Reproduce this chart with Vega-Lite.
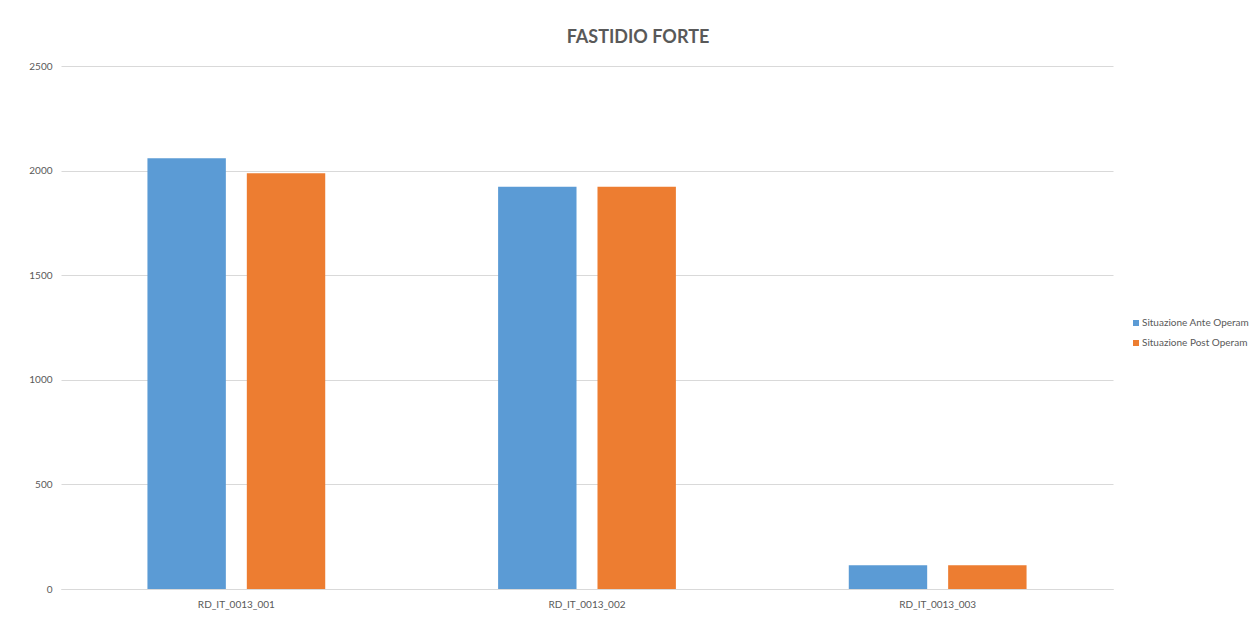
{
  "$schema": "https://vega.github.io/schema/vega-lite/v6.json",
  "autosize": {"type": "none"},
  "width": 1052,
  "height": 523,
  "padding": {"left": 61, "top": 66, "right": 147, "bottom": 31},
  "background": "white",
  "title": {
    "text": "FASTIDIO FORTE",
    "font": "Lato",
    "fontSize": 18,
    "fontWeight": "bold",
    "color": "#595959",
    "anchor": "middle",
    "dx": 51,
    "offset": 14
  },
  "data": {
    "values": [
      {"ricettore": "RD_IT_0013_001", "scenario": "Situazione Ante Operam", "valore": 2059},
      {"ricettore": "RD_IT_0013_001", "scenario": "Situazione Post Operam", "valore": 1987},
      {"ricettore": "RD_IT_0013_002", "scenario": "Situazione Ante Operam", "valore": 1923},
      {"ricettore": "RD_IT_0013_002", "scenario": "Situazione Post Operam", "valore": 1923},
      {"ricettore": "RD_IT_0013_003", "scenario": "Situazione Ante Operam", "valore": 113},
      {"ricettore": "RD_IT_0013_003", "scenario": "Situazione Post Operam", "valore": 113}
    ]
  },
  "mark": {"type": "bar"},
  "encoding": {
    "x": {
      "field": "ricettore",
      "type": "nominal",
      "title": null,
      "scale": {"paddingInner": 0.493, "paddingOuter": 0.2465},
      "axis": {
        "labelAngle": 0,
        "labelFont": "Lato",
        "labelFontSize": 10,
        "labelColor": "#595959",
        "labelPadding": 10,
        "ticks": false,
        "domainColor": "#d9d9d9",
        "grid": false
      }
    },
    "xOffset": {
      "field": "scenario",
      "type": "nominal",
      "scale": {"paddingInner": 0.211, "paddingOuter": 0}
    },
    "y": {
      "field": "valore",
      "type": "quantitative",
      "title": null,
      "scale": {"domain": [0, 2500]},
      "axis": {
        "values": [0, 500, 1000, 1500, 2000, 2500],
        "format": "d",
        "labelFont": "Lato",
        "labelFontSize": 10,
        "labelColor": "#595959",
        "labelPadding": 9,
        "ticks": false,
        "domain": false,
        "gridColor": "#d9d9d9",
        "gridWidth": 1
      }
    },
    "color": {
      "field": "scenario",
      "type": "nominal",
      "title": null,
      "scale": {
        "domain": ["Situazione Ante Operam", "Situazione Post Operam"],
        "range": ["#5B9BD5", "#ED7D31"]
      },
      "legend": {
        "orient": "none",
        "legendX": 1070,
        "legendY": 252,
        "symbolType": "square",
        "symbolSize": 36,
        "symbolStrokeWidth": 0,
        "labelFont": "Lato",
        "labelFontSize": 10,
        "labelColor": "#595959",
        "labelOffset": 1,
        "rowPadding": 10
      }
    }
  },
  "config": {"view": {"stroke": null}}
}
